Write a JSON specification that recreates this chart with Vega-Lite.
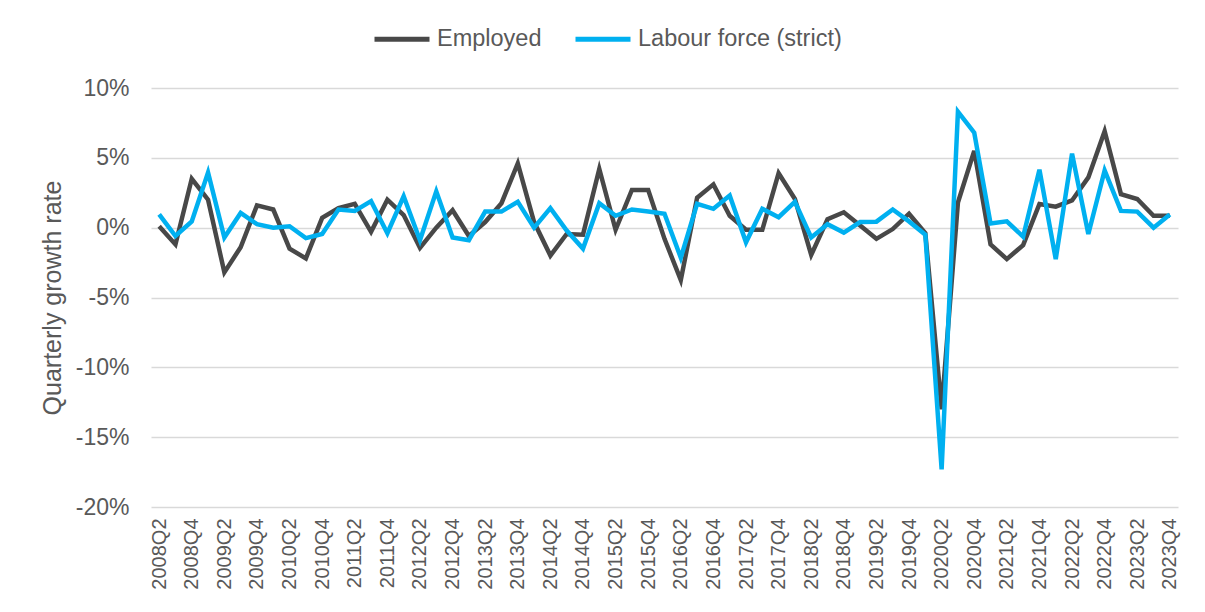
{
  "$schema": "https://vega.github.io/schema/vega-lite/v6.json",
  "width": 1027,
  "height": 419,
  "autosize": {"type": "none"},
  "padding": {"left": 151, "top": 88, "right": 27, "bottom": 105},
  "background": "#ffffff",
  "config": {
    "font": "Liberation Sans",
    "view": {"stroke": null}
  },
  "data": {
    "values": [
      {"q": "2008Q2", "Employed": 0.1, "Labour force (strict)": 0.95},
      {"q": "2008Q3", "Employed": -1.2, "Labour force (strict)": -0.6},
      {"q": "2008Q4", "Employed": 3.5, "Labour force (strict)": 0.45},
      {"q": "2009Q1", "Employed": 2.0, "Labour force (strict)": 3.95},
      {"q": "2009Q2", "Employed": -3.2, "Labour force (strict)": -0.7},
      {"q": "2009Q3", "Employed": -1.4, "Labour force (strict)": 1.05},
      {"q": "2009Q4", "Employed": 1.6, "Labour force (strict)": 0.25},
      {"q": "2010Q1", "Employed": 1.3, "Labour force (strict)": 0.0},
      {"q": "2010Q2", "Employed": -1.5, "Labour force (strict)": 0.1},
      {"q": "2010Q3", "Employed": -2.2, "Labour force (strict)": -0.75},
      {"q": "2010Q4", "Employed": 0.7, "Labour force (strict)": -0.45},
      {"q": "2011Q1", "Employed": 1.4, "Labour force (strict)": 1.3},
      {"q": "2011Q2", "Employed": 1.7, "Labour force (strict)": 1.2},
      {"q": "2011Q3", "Employed": -0.3, "Labour force (strict)": 1.9},
      {"q": "2011Q4", "Employed": 2.0, "Labour force (strict)": -0.4},
      {"q": "2012Q1", "Employed": 0.9, "Labour force (strict)": 2.25},
      {"q": "2012Q2", "Employed": -1.45, "Labour force (strict)": -0.9},
      {"q": "2012Q3", "Employed": 0.0, "Labour force (strict)": 2.6},
      {"q": "2012Q4", "Employed": 1.25, "Labour force (strict)": -0.7},
      {"q": "2013Q1", "Employed": -0.6, "Labour force (strict)": -0.9},
      {"q": "2013Q2", "Employed": 0.4, "Labour force (strict)": 1.15},
      {"q": "2013Q3", "Employed": 1.75, "Labour force (strict)": 1.15},
      {"q": "2013Q4", "Employed": 4.6, "Labour force (strict)": 1.85},
      {"q": "2014Q1", "Employed": 0.4, "Labour force (strict)": 0.0},
      {"q": "2014Q2", "Employed": -2.0, "Labour force (strict)": 1.4},
      {"q": "2014Q3", "Employed": -0.45, "Labour force (strict)": -0.2},
      {"q": "2014Q4", "Employed": -0.5, "Labour force (strict)": -1.5},
      {"q": "2015Q1", "Employed": 4.2, "Labour force (strict)": 1.75},
      {"q": "2015Q2", "Employed": -0.15, "Labour force (strict)": 0.85},
      {"q": "2015Q3", "Employed": 2.7, "Labour force (strict)": 1.3},
      {"q": "2015Q4", "Employed": 2.7, "Labour force (strict)": 1.15},
      {"q": "2016Q1", "Employed": -0.8, "Labour force (strict)": 1.0},
      {"q": "2016Q2", "Employed": -3.75, "Labour force (strict)": -2.15},
      {"q": "2016Q3", "Employed": 2.15, "Labour force (strict)": 1.7},
      {"q": "2016Q4", "Employed": 3.1, "Labour force (strict)": 1.35},
      {"q": "2017Q1", "Employed": 0.85, "Labour force (strict)": 2.3},
      {"q": "2017Q2", "Employed": -0.15, "Labour force (strict)": -1.05},
      {"q": "2017Q3", "Employed": -0.15, "Labour force (strict)": 1.35},
      {"q": "2017Q4", "Employed": 3.9, "Labour force (strict)": 0.75},
      {"q": "2018Q1", "Employed": 2.05, "Labour force (strict)": 1.85},
      {"q": "2018Q2", "Employed": -1.95, "Labour force (strict)": -0.7},
      {"q": "2018Q3", "Employed": 0.6, "Labour force (strict)": 0.25},
      {"q": "2018Q4", "Employed": 1.1, "Labour force (strict)": -0.35},
      {"q": "2019Q1", "Employed": 0.15, "Labour force (strict)": 0.4},
      {"q": "2019Q2", "Employed": -0.8, "Labour force (strict)": 0.43},
      {"q": "2019Q3", "Employed": -0.1, "Labour force (strict)": 1.3},
      {"q": "2019Q4", "Employed": 1.0, "Labour force (strict)": 0.45},
      {"q": "2020Q1", "Employed": -0.4, "Labour force (strict)": -0.5},
      {"q": "2020Q2", "Employed": -13.0, "Labour force (strict)": -17.3},
      {"q": "2020Q3", "Employed": 1.8, "Labour force (strict)": 8.3},
      {"q": "2020Q4", "Employed": 5.5, "Labour force (strict)": 6.8},
      {"q": "2021Q1", "Employed": -1.2, "Labour force (strict)": 0.3},
      {"q": "2021Q2", "Employed": -2.25, "Labour force (strict)": 0.45},
      {"q": "2021Q3", "Employed": -1.25, "Labour force (strict)": -0.65},
      {"q": "2021Q4", "Employed": 1.7, "Labour force (strict)": 4.15},
      {"q": "2022Q1", "Employed": 1.5, "Labour force (strict)": -2.25},
      {"q": "2022Q2", "Employed": 1.95, "Labour force (strict)": 5.3},
      {"q": "2022Q3", "Employed": 3.6, "Labour force (strict)": -0.45},
      {"q": "2022Q4", "Employed": 6.9, "Labour force (strict)": 4.1},
      {"q": "2023Q1", "Employed": 2.4, "Labour force (strict)": 1.2},
      {"q": "2023Q2", "Employed": 2.05, "Labour force (strict)": 1.15},
      {"q": "2023Q3", "Employed": 0.85, "Labour force (strict)": 0.0},
      {"q": "2023Q4", "Employed": 0.85, "Labour force (strict)": 0.95}
    ]
  },
  "transform": [
    {"fold": ["Employed", "Labour force (strict)"], "as": ["series", "value"]}
  ],
  "mark": {"type": "line", "strokeWidth": 4.5, "strokeJoin": "miter", "strokeCap": "butt"},
  "encoding": {
    "x": {
      "field": "q",
      "type": "ordinal",
      "sort": null,
      "scale": {"type": "point", "padding": 0.5},
      "axis": {
        "title": null,
        "values": ["2008Q2","2008Q4","2009Q2","2009Q4","2010Q2","2010Q4","2011Q2","2011Q4","2012Q2","2012Q4","2013Q2","2013Q4","2014Q2","2014Q4","2015Q2","2015Q4","2016Q2","2016Q4","2017Q2","2017Q4","2018Q2","2018Q4","2019Q2","2019Q4","2020Q2","2020Q4","2021Q2","2021Q4","2022Q2","2022Q4","2023Q2","2023Q4"],
        "labelAngle": -90,
        "labelFontSize": 20,
        "labelColor": "#595959",
        "labelPadding": 11,
        "ticks": false,
        "tickSize": 0,
        "domain": false,
        "grid": false,
        "labelOverlap": false
      }
    },
    "y": {
      "field": "value",
      "type": "quantitative",
      "scale": {"domain": [-20, 10], "nice": false, "zero": false},
      "axis": {
        "title": "Quarterly growth rate",
        "titleFontSize": 25,
        "titleFontWeight": "normal",
        "titleColor": "#595959",
        "titlePadding": 10,
        "values": [-20, -15, -10, -5, 0, 5, 10],
        "labelExpr": "datum.value + '%'",
        "labelFontSize": 23,
        "labelColor": "#595959",
        "labelPadding": 22,
        "ticks": false,
        "tickSize": 0,
        "domain": false,
        "grid": true,
        "gridColor": "#d9d9d9",
        "gridWidth": 1.5
      }
    },
    "color": {
      "field": "series",
      "type": "nominal",
      "scale": {"domain": ["Employed", "Labour force (strict)"], "range": ["#484848", "#00b0f0"]},
      "legend": {
        "title": null,
        "orient": "none",
        "direction": "horizontal",
        "legendX": 221,
        "legendY": -79,
        "symbolType": "stroke",
        "symbolSize": 3025,
        "symbolStrokeWidth": 5,
        "labelFontSize": 23.5,
        "labelColor": "#595959",
        "labelOffset": 5,
        "labelLimit": 0,
        "columnPadding": 23
      }
    }
  }
}
